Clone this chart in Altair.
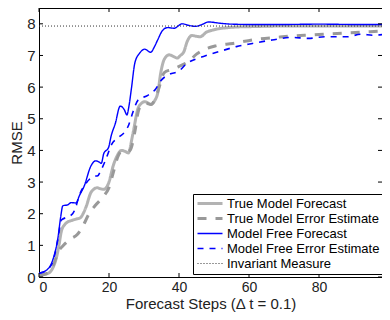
import altair as alt
import pandas as pd

names = ["True Model Forecast", "True Model Error Estimate", "Model Free Forecast",
         "Model Free Error Estimate", "Invariant Measure"]

tm_fc_x = [0, 1.5, 3.1, 4, 5, 5.7, 6.4, 7.3, 8.2, 9.2, 10.6, 11.8, 12.6, 13.4, 14.8, 15.7, 16.6, 17.5,
           18.5, 19.9, 21.3, 22.2, 23.6, 24.6, 25.5, 26.8, 28.3, 29.2, 30.2, 32, 33.2, 33.9, 34.8, 35.8,
           37.2, 38.2, 39.5, 40.4, 41.4, 42.3, 43.7, 44.8, 46, 47.9, 49.5, 51.6, 54, 56.4, 60, 70, 98]
tm_fc_y = [0.05, 0.08, 0.15, 0.3, 0.62, 1.0, 1.45, 1.65, 1.74, 1.78, 1.83, 1.87, 2.0, 2.2, 2.66, 2.78,
           2.82, 2.79, 2.77, 2.97, 3.55, 3.8, 4.0, 3.97, 3.92, 4.51, 5.33, 5.48, 5.54, 5.46, 5.6, 5.8,
           6.46, 6.88, 7.02, 6.98, 6.92, 7.0, 7.12, 7.43, 7.63, 7.61, 7.59, 7.74, 7.8, 7.85, 7.88, 7.9,
           7.91, 7.93, 7.93]

tm_err_x = [0, 2, 4, 5.5, 7, 9, 11, 12.5, 14.3, 16, 18.5, 19.9, 21.3, 22.2, 23.5, 25, 26, 27.4, 28.3,
            29.2, 30.6, 32, 33.9, 35.8, 37.7, 39.5, 42.8, 45.1, 50.3, 55.4, 62, 67.6, 72.7, 78.3, 83.9,
            89.1, 94.7, 98]
tm_err_y = [0.05, 0.1, 0.35, 0.8, 1.0, 1.2, 1.35, 1.6, 2.0, 2.25, 2.56, 2.8, 3.33, 3.7, 3.95, 3.95, 4.0,
            4.6, 5.2, 5.43, 5.49, 5.45, 5.85, 6.46, 6.55, 6.63, 6.82, 7.05, 7.3, 7.38, 7.51, 7.57, 7.62,
            7.65, 7.69, 7.72, 7.75, 7.77]

mf_fc_x = [0, 2.2, 4, 5.4, 6.2, 6.8, 8.2, 9.2, 10.6, 11.5, 12.9, 14.8, 16.2, 17.1, 17.8, 18.5, 19.9,
           20.6, 21.8, 23.2, 24.4, 25.1, 25.7, 26.4, 27.4, 28.8, 30.2, 31.9, 33, 33.9, 35.3, 36.7, 38.6,
           40.9, 42.8, 44.7, 46.6, 48.4, 51.6, 55, 60, 70, 80, 90, 98]
mf_fc_y = [0.12, 0.22, 0.56, 1.23, 1.9, 2.25, 2.28, 2.35, 2.34, 2.56, 2.87, 3.5, 3.67, 3.64, 3.59, 3.9,
           4.1, 4.45, 4.85, 5.4, 5.28, 5.12, 5.4, 5.95, 6.77, 7.08, 7.2, 7.1, 7.28, 7.49, 7.79, 7.88, 7.86,
           8.0, 7.95, 7.92, 7.98, 8.06, 8.02, 7.99, 7.98, 7.98, 7.99, 7.98, 7.98]

mf_err_x = [0, 2, 4, 5.4, 6.4, 8.2, 9.6, 10.5, 11.3, 13.5, 15.7, 16.8, 17.6, 19, 20.8, 22.7, 24.6, 25.5,
            26.8, 28.3, 31.1, 33.4, 34.8, 37.2, 40, 42.3, 45.1, 47, 51.7, 56.4, 61, 66.6, 72.2, 76.9,
            81.6, 88.1, 91.9, 95.6, 98]
mf_err_y = [0.12, 0.2, 0.5, 1.2, 1.8, 1.9, 2.0, 2.2, 2.51, 2.97, 3.18, 3.2, 3.35, 3.69, 4.2, 4.41, 4.6,
            4.77, 5.2, 5.59, 5.74, 5.95, 6.2, 6.4, 6.51, 6.75, 6.9, 6.97, 7.13, 7.28, 7.38, 7.49, 7.57,
            7.54, 7.59, 7.59, 7.67, 7.64, 7.66]

inv_x = [0, 98]
inv_y = [7.93, 7.93]

x_ticks = [0, 20, 40, 60, 80]
y_ticks = [0, 1, 2, 3, 4, 5, 6, 7, 8]

colors = ["#b3b3b3", "#999999", "#0000ff", "#0000ff", "#333333"]
dashes = [[1, 0], [9, 9], [1, 0], [6, 6], [1, 2]]
widths = [3, 3, 1.4, 1.6, 1]

rows = []
for nm, xs, ys in zip(names, [tm_fc_x, tm_err_x, mf_fc_x, mf_err_x, inv_x],
                      [tm_fc_y, tm_err_y, mf_fc_y, mf_err_y, inv_y]):
    for i, (a, b) in enumerate(zip(xs, ys)):
        rows.append({"series": nm, "x": a, "y": b, "i": i})
df = pd.DataFrame(rows)

W, H = 343, 269
font = "Liberation Sans"

xs = alt.Scale(domain=[0, 98], nice=False, zero=False)
ys = alt.Scale(domain=[0, 8.5], nice=False, zero=False)

x_axis = alt.Axis(values=x_ticks, title="Forecast Steps (\u0394 t = 0.1)", ticks=False, tickSize=0,
                  labelPadding=3, titlePadding=2, grid=False, labelOverlap=False, labelFontSize=14)
y_axis = alt.Axis(values=y_ticks, title="RMSE", ticks=False, tickSize=0, labelPadding=4,
                  titlePadding=2, grid=False, labelOverlap=False)

lines = alt.Chart(df).mark_line(interpolate="monotone", clip=True).encode(
    x=alt.X("x:Q", scale=xs, axis=x_axis),
    y=alt.Y("y:Q", scale=ys, axis=y_axis),
    color=alt.Color("series:N", scale=alt.Scale(domain=names, range=colors),
                    legend=alt.Legend(orient="none", legendX=154, legendY=186, title=None,
                                      symbolType="stroke", symbolSize=625, labelFontSize=13,
                                      labelFont=font, labelColor="#000000", strokeColor="#000000",
                                      fillColor="white", padding=3, rowPadding=1, clipHeight=13,
                                      labelOffset=3, labelLimit=300)),
    strokeDash=alt.StrokeDash("series:N", scale=alt.Scale(domain=names, range=dashes)),
    strokeWidth=alt.StrokeWidth("series:N",
                                scale=alt.Scale(type="ordinal", domain=names, range=widths)),
    order="i:Q",
)

tdf_x = pd.DataFrame({"x": x_ticks})
tdf_y = pd.DataFrame({"y": y_ticks})
tick_bottom = alt.Chart(tdf_x).mark_rule(color="black", strokeWidth=1).encode(
    x=alt.X("x:Q", scale=xs, axis=x_axis), y=alt.value(H), y2=alt.value(H - 4))
tick_top = alt.Chart(tdf_x).mark_rule(color="black", strokeWidth=1).encode(
    x=alt.X("x:Q", scale=xs, axis=x_axis), y=alt.value(0), y2=alt.value(4))
tick_left = alt.Chart(tdf_y).mark_rule(color="black", strokeWidth=1).encode(
    y=alt.Y("y:Q", scale=ys, axis=y_axis), x=alt.value(0), x2=alt.value(4))
tick_right = alt.Chart(tdf_y).mark_rule(color="black", strokeWidth=1).encode(
    y=alt.Y("y:Q", scale=ys, axis=y_axis), x=alt.value(W), x2=alt.value(W - 4))

chart = alt.layer(lines, tick_bottom, tick_top, tick_left, tick_right).properties(
    width=W, height=H,
    autosize=alt.AutoSizeParams(type="none"),
    padding={"left": 31, "top": 0, "right": 0, "bottom": 35},
).configure_view(stroke="black", strokeWidth=1).configure_axis(
    labelFont=font, titleFont=font, labelFontSize=15, titleFontSize=15,
    labelColor="#222222", titleColor="#222222", titleFontWeight="normal",
    domainColor="black", domainWidth=1,
)

chart.save("out.html", embed_options={"renderer": "svg", "actions": False})
